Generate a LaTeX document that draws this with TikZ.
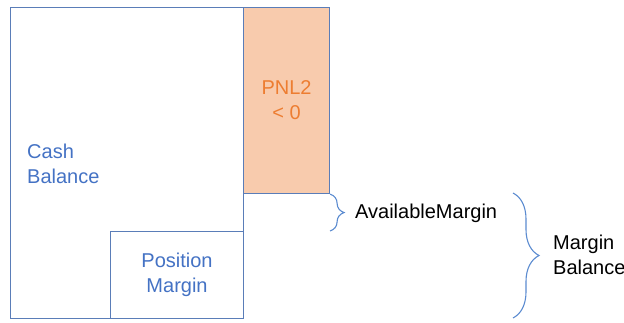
\documentclass[tikz,border=0pt]{standalone}
\usepackage{fontspec}
\setmainfont{Liberation Sans}
\usetikzlibrary{positioning,decorations.pathreplacing}
\definecolor{edgeblue}{HTML}{5A7DB8}
\definecolor{txtblue}{HTML}{4472C4}
\definecolor{pnlfill}{HTML}{F8CBAD}
\definecolor{pnltxt}{HTML}{ED7D31}
\definecolor{braceblue}{HTML}{5B8BD0}
\tikzset{
  box/.style={draw=edgeblue,line width=1.1pt,inner sep=0pt,anchor=north west},
  lbl/.style={font=\fontsize{20}{25}\selectfont,align=center,inner sep=0pt},
  brc/.style={draw=braceblue,line width=1.1pt,decorate},
}
\begin{document}
\begin{tikzpicture}[x=1pt,y=-1pt]
    \useasboundingbox (0,0) rectangle (624,323);
    \node[box,minimum width=233pt,minimum height=311pt](cash) at (10,7) {};
    \node[box,fill=pnlfill,minimum width=86pt,minimum height=186pt](pnl) at (243,7) {};
    \node[box,fill=white,minimum width=133pt,minimum height=87pt](pos) at (110,231) {};
    \node[lbl,text=txtblue,align=left,anchor=west](cashtxt) at (27,164) {Cash\\Balance};
    \node[lbl,text=pnltxt](pnltxt) at (pnl.center) {PNL2\\< 0};
    \node[lbl,text=txtblue](postxt) at (pos.center) {Position\\Margin};
    \coordinate(a1) at (pnl.south east);
    \coordinate(a2) at (pnl.south east |- pos.north);
    \coordinate(b1) at (513,193);
    \coordinate(b2) at (513,318);
    \draw[brc,decoration={brace,amplitude=14pt}] (a1) -- (a2);
    \draw[brc,decoration={brace,amplitude=26pt}] (b1) -- (b2);
    \node[lbl,anchor=west](avail) at (355,213) {AvailableMargin};
    \node[lbl,align=left,anchor=west](mbal) at (553,255) {Margin\\Balance};
  \end{tikzpicture}
\end{document}
